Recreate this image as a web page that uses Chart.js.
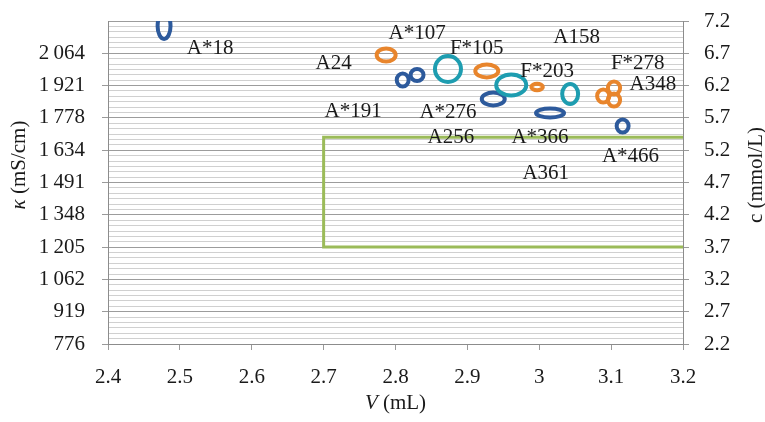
<!DOCTYPE html>
<html>
<head>
<meta charset="utf-8">
<script src="https://cdn.jsdelivr.net/npm/chart.js@4.4.1/dist/chart.umd.min.js"></script>
<style>
  body { margin: 0; background: #fff; }
</style>
</head>
<body>
<canvas id="chart" width="765" height="422"></canvas>
<script>
// axis ticks
const vTicks = [2.4, 2.5, 2.6, 2.7, 2.8, 2.9, 3, 3.1, 3.2];
const kappaTicks = [776, 919, 1062, 1205, 1348, 1491, 1634, 1778, 1921, 2064];
const kappaMax = 2207;
const cTicks = [2.2, 2.7, 3.2, 3.7, 4.2, 4.7, 5.2, 5.7, 6.2, 6.7, 7.2];

// ellipses: centre (V, c) and half-axes (dV, dc)
const blueV = [2.478, 2.810, 2.830, 2.936, 3.015, 3.116];
const blueC = [7.123, 6.287, 6.364, 5.993, 5.776, 5.575];
const blueDV = [0.0090, 0.0083, 0.0090, 0.0160, 0.0195, 0.0083];
const blueDC = [0.201, 0.100, 0.093, 0.100, 0.070, 0.100];

const orangeV = [2.787, 2.927, 2.997, 3.089, 3.104, 3.104];
const orangeC = [6.674, 6.426, 6.178, 6.039, 6.163, 5.977];
const orangeDV = [0.0132, 0.0160, 0.0080, 0.0085, 0.0085, 0.0085];
const orangeDC = [0.100, 0.100, 0.050, 0.100, 0.100, 0.100];

const tealV = [2.873, 2.961, 3.043];
const tealC = [6.457, 6.209, 6.070];
const tealDV = [0.0181, 0.0209, 0.0111];
const tealDC = [0.201, 0.163, 0.155];

// green limit bracket
const limitV = [3.2, 2.7, 2.7, 3.2];
const limitC = [5.4, 5.4, 3.7, 3.7];

// sample labels
const labelNames = ['A*18', 'A*107', 'A24', 'F*105', 'A158', 'F*278', 'F*203', 'A348',
    'A*191', 'A*276', 'A256', 'A*366', 'A*466', 'A361'];
const labelV = [2.542, 2.830, 2.714, 2.913, 3.052, 3.137, 3.011, 3.158, 2.741, 2.873, 2.877, 3.001, 3.127, 3.009];
const labelC = [6.798, 7.030, 6.565, 6.798, 6.968, 6.565, 6.441, 6.240, 5.822, 5.807, 5.420, 5.420, 5.126, 4.863];

const FONT = "'Liberation Serif', 'DejaVu Serif', serif";
const TEXT = '#1a1a1a';

function points(xs, ys, dxs, dys) {
    return xs.map((x, i) => ({x: x, y: ys[i], dx: dxs ? dxs[i] : 0, dy: dys ? dys[i] : 0}));
}

function fmtKappa(v) {
    const s = String(Math.round(v));
    return s.length > 3 ? s.slice(0, s.length - 3) + '\u2009' + s.slice(-3) : s;
}

// fixed box sizes, no extra padding from tick labels
function fixWidth(w) {
    return function (scale) {
        scale.width = w;
        scale.paddingTop = 0;
        scale.paddingBottom = 0;
    };
}

const ellipsePlugin = {
    id: 'ellipses',
    afterDatasetsDraw(chart) {
        const {ctx, chartArea, scales} = chart;
        ctx.save();
        ctx.beginPath();
        ctx.rect(chartArea.left, chartArea.top, chartArea.width, chartArea.height);
        ctx.clip();
        chart.data.datasets.forEach((ds, di) => {
            if (!ds.ellipse) return;
            const meta = chart.getDatasetMeta(di);
            const ys = scales[meta.yAxisID];
            meta.data.forEach((pt, i) => {
                const raw = ds.data[i];
                const rx = Math.abs(scales.x.getPixelForValue(raw.x + raw.dx) - pt.x);
                const ry = Math.abs(ys.getPixelForValue(raw.y + raw.dy) - pt.y);
                ctx.beginPath();
                ctx.ellipse(pt.x, pt.y, rx, ry, 0, 0, Math.PI * 2);
                ctx.lineWidth = 4;
                ctx.strokeStyle = ds.borderColor;
                ctx.stroke();
            });
        });
        ctx.restore();
    }
};

// point labels and axis titles (with italic symbols)
const textPlugin = {
    id: 'texts',
    afterDraw(chart) {
        const {ctx, chartArea, scales} = chart;
        ctx.save();
        ctx.fillStyle = TEXT;
        ctx.font = '21px ' + FONT;
        ctx.textAlign = 'center';
        ctx.textBaseline = 'alphabetic';
        labelNames.forEach((name, i) => {
            const x = scales.x.getPixelForValue(labelV[i]);
            const y = scales.y2.getPixelForValue(labelC[i]);
            ctx.fillText(name, x, y + 7);
        });

        function mixed(parts, cx, cy, rot) {
            ctx.save();
            ctx.translate(cx, cy);
            ctx.rotate(rot);
            let total = 0;
            parts.forEach(p => { ctx.font = p[1] + ' 21px ' + FONT; total += ctx.measureText(p[0]).width; });
            let x = -total / 2;
            ctx.textAlign = 'left';
            ctx.textBaseline = 'middle';
            parts.forEach(p => {
                ctx.font = p[1] + ' 21px ' + FONT;
                ctx.fillText(p[0], x, 0);
                x += ctx.measureText(p[0]).width;
            });
            ctx.restore();
        }
        const midX = (chartArea.left + chartArea.right) / 2;
        mixed([['V', 'italic'], [' (mL)', 'normal']], midX, 403, 0);
        mixed([['\u03ba', 'italic'], [' (mS/cm)', 'normal']], 19, 165, -Math.PI / 2);
        mixed([['c (mmol/L)', 'normal']], 756, 175, -Math.PI / 2);
        ctx.restore();
    }
};

const tickFont = {family: FONT, size: 21};

new Chart(document.getElementById('chart'), {
    type: 'scatter',
    data: {
        datasets: [
            {
                data: points(limitV, limitC),
                yAxisID: 'y2',
                showLine: true,
                borderColor: '#9bbb59',
                borderWidth: 3,
                pointRadius: 0,
                borderJoinStyle: 'miter',
            },
            {data: points(blueV, blueC, blueDV, blueDC), yAxisID: 'y2', ellipse: true, borderColor: '#2d5a9c', pointRadius: 0},
            {data: points(orangeV, orangeC, orangeDV, orangeDC), yAxisID: 'y2', ellipse: true, borderColor: '#e8852c', pointRadius: 0},
            {data: points(tealV, tealC, tealDV, tealDC), yAxisID: 'y2', ellipse: true, borderColor: '#1e9db0', pointRadius: 0},
        ]
    },
    options: {
        responsive: false,
        animation: false,
        layout: {padding: {top: 21, left: 0, right: 0, bottom: 0}},
        plugins: {
            legend: {display: false},
            tooltip: {enabled: false},
        },
        scales: {
            x: {
                type: 'linear',
                min: 2.4,
                max: 3.2,
                afterBuildTicks(scale) {
                    scale.ticks = vTicks.map(v => ({value: v}));
                },
                afterFit(scale) {
                    scale.height = 78;
                    scale.paddingLeft = 0;
                    scale.paddingRight = 0;
                },
                ticks: {
                    autoSkip: false,
                    maxRotation: 0,
                    padding: 15,
                    color: TEXT,
                    font: tickFont,
                    callback: v => String(v),
                },
                grid: {drawOnChartArea: false, tickLength: 6, tickColor: '#9a9a9a'},
                border: {display: true, color: '#8c8c8c'},
            },
            y: {
                type: 'linear',
                position: 'left',
                min: kappaTicks[0],
                max: kappaMax,
                afterBuildTicks(scale) {
                    const mains = kappaTicks.concat([kappaMax]);
                    const t = [];
                    for (let i = 0; i < mains.length - 1; i++) {
                        for (let k = 0; k < 6; k++) {
                            t.push({value: mains[i] + (mains[i + 1] - mains[i]) * k / 6, main: k === 0, labelled: k === 0});
                        }
                    }
                    t.push({value: kappaMax, main: true, labelled: false});
                    scale.ticks = t;
                },
                afterFit: fixWidth(108),
                ticks: {
                    autoSkip: false,
                    padding: 17,
                    color: TEXT,
                    font: tickFont,
                    callback: function (value, index, ticks) {
                        return ticks[index].labelled ? fmtKappa(value) : '';
                    },
                },
                grid: {
                    tickLength: 6,
                    color: ctx => (ctx.tick && ctx.tick.main) ? '#9c9c9c' : '#d0d0d0',
                    tickColor: ctx => (ctx.tick && ctx.tick.labelled) ? '#9a9a9a' : 'rgba(0,0,0,0)',
                },
                border: {display: true, color: '#8c8c8c'},
            },
            y2: {
                type: 'linear',
                position: 'right',
                min: 2.2,
                max: 7.2,
                afterBuildTicks(scale) {
                    scale.ticks = cTicks.map(v => ({value: v}));
                },
                afterFit: fixWidth(82),
                ticks: {
                    autoSkip: false,
                    padding: 15,
                    color: TEXT,
                    font: tickFont,
                    callback: v => String(v),
                },
                grid: {drawOnChartArea: false, tickLength: 6, tickColor: '#9a9a9a'},
                border: {display: true, color: '#8c8c8c'},
            },
        }
    },
    plugins: [ellipsePlugin, textPlugin],
});
</script>
</body>
</html>
